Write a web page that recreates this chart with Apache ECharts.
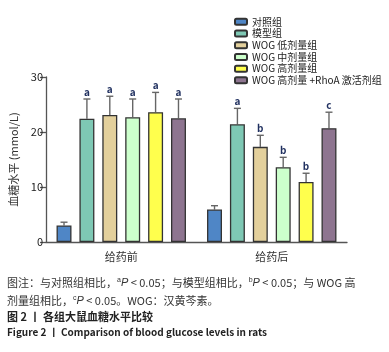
<!DOCTYPE html>
<html>
<head>
    <meta charset="utf-8">
    <title>各组大鼠血糖水平比较</title>
    <script type="text/javascript" src="https://cdn.jsdelivr.net/npm/echarts@6/dist/echarts.min.js"></script>
    <style>
        *{ margin:0; padding:0; }
        #main{ width:389px; height:352px; }
    </style>
</head>
<body>
<div id="main"></div>
<script type="text/javascript">
    // 数据
    var categories = ['给药前', '给药后'];
    var groupNames = ['对照组', '模型组', 'WOG 低剂量组', 'WOG 中剂量组', 'WOG 高剂量组', 'WOG 高剂量 +RhoA 激活剂组'];
    var groupColors = ['#4f86c6', '#7ec8b4', '#e3d09c', '#ccffcc', '#ffff4d', '#8e7590'];
    // 每组均值 [给药前, 给药后]
    var means = [
        [3.0, 5.9],
        [22.4, 21.4],
        [23.1, 17.3],
        [22.7, 13.6],
        [23.6, 10.9],
        [22.5, 20.7]
    ];
    // 误差线上端
    var errTops = [
        [3.6, 6.6],
        [26.0, 24.3],
        [26.5, 19.4],
        [26.0, 15.4],
        [27.2, 12.5],
        [26.0, 23.6]
    ];
    // 显著性标记
    var marks = [
        ['', ''],
        ['a', 'a'],
        ['a', 'b'],
        ['a', 'b'],
        ['a', 'b'],
        ['a', 'c']
    ];
    var yTicks = [0, 10, 20, 30];

    var font = '"Noto Sans CJK SC", "Noto Sans", sans-serif';
    var catGap = 0.14, barGap = 0.53;
    var n = groupNames.length;

    var series = [];
    groupNames.forEach(function (name, i) {
        series.push({
            name: name,
            type: 'bar',
            data: means[i],
            barCategoryGap: '14%',
            barGap: '53%',
            itemStyle: { color: groupColors[i], borderColor: '#333', borderWidth: 1.3 }
        });
    });
    groupNames.forEach(function (name, i) {
        series.push({
            type: 'custom',
            z: 1,
            data: errTops[i].map(function (v, j) { return [j, means[i][j], v, marks[i][j]]; }),
            renderItem: function (params, api) {
                var j = api.value(0);
                var base = api.coord([j, api.value(1)]);
                var top = api.coord([j, api.value(2)]);
                var band = api.size([1, 0])[0];
                var bw = band * (1 - catGap) / (n + (n - 1) * barGap);
                var start = -band * (1 - catGap) / 2;
                var x = base[0] + start + i * bw * (1 + barGap) + bw / 2;
                var st = { stroke: '#666', lineWidth: 1.4 };
                return {
                    type: 'group',
                    children: [
                        { type: 'line', shape: { x1: x, y1: base[1], x2: x, y2: top[1] }, style: st },
                        { type: 'line', shape: { x1: x - 3.5, y1: top[1], x2: x + 3.5, y2: top[1] }, style: st },
                        { type: 'text', style: { text: api.value(3), x: x, y: top[1] - 2, align: 'center', verticalAlign: 'bottom',
                            fill: '#1f2f5f', font: 'bold 10px ' + font } }
                    ]
                };
            }
        });
    });

    var chart = echarts.init(document.getElementById('main'));
    chart.setOption({
        animation: false,
        backgroundColor: '#fff',
        textStyle: { fontFamily: font },
        grid: { left: 45, top: 77, right: 42, bottom: 110 },
        legend: {
            data: groupNames,
            orient: 'vertical',
            left: 229,
            top: 11,
            itemWidth: 12,
            itemHeight: 6,
            itemGap: 0,
            itemTextGap: 2,
            textStyle: { fontSize: 10, color: '#222', lineHeight: 11.7, fontFamily: font }
        },
        xAxis: {
            type: 'category',
            data: categories,
            axisLine: { lineStyle: { color: '#555', width: 1.3 } },
            axisTick: { alignWithLabel: true, length: 5, lineStyle: { color: '#555', width: 1.3 } },
            axisLabel: { fontSize: 11, color: '#333', margin: 9 }
        },
        yAxis: {
            type: 'value',
            min: yTicks[0],
            max: yTicks[yTicks.length - 1],
            interval: 10,
            name: '血糖水平 (mmol/L)',
            nameLocation: 'middle',
            nameGap: 27,
            nameTextStyle: { fontSize: 11, color: '#333' },
            splitLine: { show: false },
            axisLine: { show: true, lineStyle: { color: '#555', width: 1.3 } },
            axisTick: { show: true, length: 6, lineStyle: { color: '#555', width: 1.3 } },
            axisLabel: { fontSize: 11, color: '#222', margin: 3 }
        },
        graphic: [
            {
                type: 'text', left: 7, top: 277,
                style: {
                    text: '图注：与对照组相比，{sup|a}{it|P} < 0.05；与模型组相比，{sup|b}{it|P} < 0.05；与 WOG 高',
                    font: '11px ' + font, fill: '#333',
                    rich: {
                        sup: { fontSize: 7, verticalAlign: 'top', fill: '#333', padding: [0, 0, 5, 0] },
                        it: { fontStyle: 'italic', fontSize: 11, fill: '#333' }
                    }
                }
            },
            {
                type: 'text', left: 7, top: 295,
                style: {
                    text: '剂量组相比，{sup|c}{it|P} < 0.05。WOG：汉黄芩素。',
                    font: '11px ' + font, fill: '#333',
                    rich: {
                        sup: { fontSize: 7, verticalAlign: 'top', fill: '#333', padding: [0, 0, 5, 0] },
                        it: { fontStyle: 'italic', fontSize: 11, fill: '#333' }
                    }
                }
            },
            {
                type: 'text', left: 7, top: 311,
                style: { text: '图 2 丨 各组大鼠血糖水平比较', font: 'bold 11px ' + font, fill: '#222' }
            },
            {
                type: 'text', left: 7, top: 327,
                style: { text: 'Figure 2 丨 Comparison of blood glucose levels in rats', font: 'bold 10px ' + font, fill: '#222' }
            }
        ],
        series: series
    });
</script>
</body>
</html>
